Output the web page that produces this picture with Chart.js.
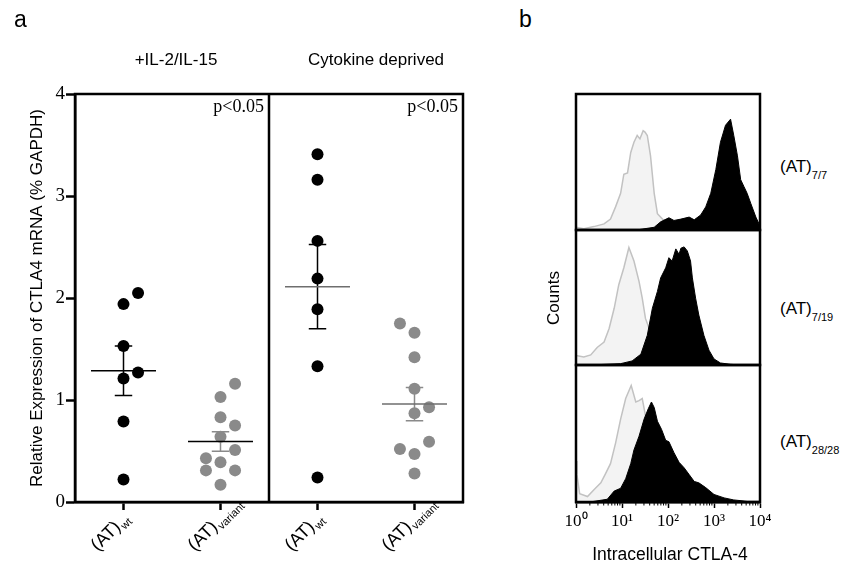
<!DOCTYPE html>
<html>
<head>
<meta charset="utf-8">
<script src="https://cdn.jsdelivr.net/npm/chart.js@4.4.1/dist/chart.umd.min.js"></script>
<style>
  body { margin: 0; background: #fff; }
  #wrap { position: relative; width: 845px; height: 570px; overflow: hidden;
          font-family: "Liberation Sans", Arial, sans-serif; color: #000; }
  canvas { position: absolute; }
  .lbl { position: absolute; font-size: 17px; line-height: 1; white-space: nowrap; }
  .lbl sub { font-size: 11px; vertical-align: -7px; line-height: 0; }
  .ctr { transform: translate(-50%, -50%); }
</style>
</head>
<body>
<div id="wrap">
  <canvas id="scatterA" width="480" height="570" style="left:0;top:0;width:480px;height:570px"></canvas>
  <canvas id="hist1" width="188" height="140" style="left:574px;top:92px;width:188px;height:140px"></canvas>
  <canvas id="hist2" width="188" height="139" style="left:574px;top:228px;width:188px;height:139px"></canvas>
  <canvas id="hist3" width="224" height="207" style="left:556px;top:363px;width:224px;height:207px"></canvas>

  <div class="lbl" style="left:14px;top:8px;font-size:23px">a</div>
  <div class="lbl" style="left:519px;top:8px;font-size:23px">b</div>
  <div class="lbl ctr" style="left:553px;top:298px;transform:translate(-50%,-50%) rotate(-90deg)">Counts</div>
  <div class="lbl ctr" style="left:670px;top:555px;font-size:17.5px">Intracellular CTLA-4</div>
  <div class="lbl" id="s0" style="left:780px;top:158px"></div>
  <div class="lbl" id="s1" style="left:780px;top:300px"></div>
  <div class="lbl" id="s2" style="left:780px;top:433px"></div>
</div>
<script>
// ---- panel a: CTLA4 mRNA (% GAPDH) ----
const groupPos = [0.5, 1.5, 2.5, 3.5];
const genotypeSubs = ['wt', 'variant', 'wt', 'variant'];
const conditionTitles = ['+IL-2/IL-15', 'Cytokine deprived'];
const pLabels = ['p<0.05', 'p<0.05'];

const il2Wt = [2.05, 1.94, 1.53, 1.27, 1.21, 0.79, 0.22];
const il2WtJit = [0.15, 0, 0, 0.15, 0, 0, 0];
const il2Var = [1.16, 1.03, 0.83, 0.75, 0.64, 0.51, 0.43, 0.39, 0.31, 0.31, 0.17];
const il2VarJit = [0.15, 0, 0, 0.15, 0, 0.15, -0.15, 0, -0.15, 0.15, 0];
const depWt = [3.41, 3.16, 2.56, 2.19, 1.89, 1.33, 0.24];
const depWtJit = [0, 0, 0, 0, 0, 0, 0];
const depVar = [1.75, 1.66, 1.42, 1.11, 0.93, 0.87, 0.59, 0.52, 0.47, 0.28];
const depVarJit = [-0.15, 0, 0, 0, 0.15, 0, 0.15, -0.15, 0, 0];

const groups = [il2Wt, il2Var, depWt, depVar];
const jitters = [il2WtJit, il2VarJit, depWtJit, depVarJit];
const pointColors = ['#000', '#8a8a8a', '#000', '#8a8a8a'];
const meanColors = ['#000', '#000', '#6e6e6e', '#6e6e6e'];
const semColors = ['#000', '#8a8a8a', '#000', '#8a8a8a'];

// ---- panel b: histograms (x = log10 intensity, y = % of panel height) ----
const decades = [0, 1, 2, 3, 4];
const supers = ['\u2070', '\u00B9', '\u00B2', '\u00B3', '\u2074'];
const sampleSubs = ['7/7', '7/19', '28/28'];

const h1GrayX = [0, 0.17, 0.39, 0.61, 0.75, 0.86, 0.97, 1.04, 1.12, 1.19, 1.26, 1.33, 1.39, 1.46, 1.5, 1.55, 1.62, 1.70, 1.77, 1.88, 2.0, 2.2, 2.5];
const h1GrayY = [2, 1, 2.5, 4.5, 8, 17, 27, 41, 42, 57, 64.5, 69.5, 67, 73, 72, 69.5, 54.5, 27, 12, 8, 6, 2, 0];
const h1BlackX = [1.3, 1.41, 1.70, 1.84, 2.02, 2.13, 2.28, 2.46, 2.57, 2.71, 2.82, 2.93, 3.04, 3.14, 3.25, 3.36, 3.43, 3.51, 3.58, 3.65, 3.72, 3.80, 3.91, 4.0];
const h1BlackY = [0, 0.5, 2, 6, 9, 7, 8, 9.5, 7.5, 11, 17, 27, 44.5, 64.5, 77, 81.5, 69.5, 54.5, 37, 32, 27, 19.5, 9.5, 3];

const h2GrayX = [0, 0.17, 0.32, 0.46, 0.61, 0.72, 0.83, 0.93, 1.04, 1.15, 1.26, 1.37, 1.44, 1.51, 1.59, 1.7, 1.9, 2.2];
const h2GrayY = [7, 6, 7.5, 13, 17, 27, 42, 59.5, 72, 87, 77, 62, 49.5, 34.5, 27, 15, 5, 0];
const h2BlackX = [0.3, 0.97, 1.22, 1.41, 1.55, 1.66, 1.77, 1.84, 1.95, 2.02, 2.09, 2.17, 2.24, 2.28, 2.35, 2.42, 2.49, 2.53, 2.60, 2.67, 2.78, 2.89, 3.0, 3.14, 3.36, 3.6];
const h2BlackY = [0, 1, 3, 8, 22, 42, 54.5, 64.5, 72, 79.5, 77, 86, 82, 86.5, 87.5, 84.5, 77, 64.5, 49.5, 37, 22, 11, 4.5, 1.5, 0.5, 0];

const h3GrayX = [0, 0.02, 0.08, 0.25, 0.39, 0.54, 0.64, 0.75, 0.86, 0.97, 1.08, 1.20, 1.30, 1.37, 1.44, 1.51, 1.6, 1.8, 2.1];
const h3GrayY = [30, 20, 6, 4, 9, 14, 20.5, 28, 43, 60.5, 75.5, 85, 73, 74, 75.5, 63, 45, 15, 0];
const h3BlackX = [0.3, 0.68, 0.83, 0.97, 1.08, 1.19, 1.26, 1.37, 1.48, 1.57, 1.64, 1.70, 1.77, 1.86, 1.95, 2.02, 2.13, 2.24, 2.35, 2.46, 2.57, 2.67, 2.82, 3.0, 3.22, 3.43, 3.72, 4.0];
const h3BlackY = [0, 2, 8, 10, 17, 28, 38, 48, 60.5, 68, 73, 69, 59, 53, 45, 44, 36, 29, 25, 20, 15, 14, 10.5, 5.5, 3, 1.5, 0.5, 0.5];

const SANS = '"Liberation Sans", Arial, sans-serif';
const SERIF = '"Liberation Serif", "Times New Roman", serif';
Chart.defaults.color = '#000';
Chart.defaults.font.family = SANS;

function meanSem(v) {
    const m = v.reduce((a, b) => a + b, 0) / v.length;
    const sd = Math.sqrt(v.reduce((a, b) => a + (b - m) ** 2, 0) / (v.length - 1));
    return [m, sd / Math.sqrt(v.length)];
}

// medias, errores, marco, textos del panel a
const panelAExtras = {
    id: 'panelAExtras',
    afterDatasetsDraw(chart) {
        const { ctx, chartArea: ca, scales: { x, y } } = chart;
        ctx.save();
        groups.forEach((vals, g) => {
            const [m, s] = meanSem(vals);
            const cx = x.getPixelForValue(groupPos[g]);
            ctx.lineWidth = 1.5;
            ctx.strokeStyle = semColors[g];
            ctx.beginPath();
            ctx.moveTo(cx, y.getPixelForValue(m - s));
            ctx.lineTo(cx, y.getPixelForValue(m + s));
            [m - s, m + s].forEach(v => {
                const py = y.getPixelForValue(v);
                ctx.moveTo(x.getPixelForValue(groupPos[g] - 0.09), py);
                ctx.lineTo(x.getPixelForValue(groupPos[g] + 0.09), py);
            });
            ctx.stroke();
            ctx.strokeStyle = meanColors[g];
            ctx.beginPath();
            const my = y.getPixelForValue(m);
            ctx.moveTo(x.getPixelForValue(groupPos[g] - 0.335), my);
            ctx.lineTo(x.getPixelForValue(groupPos[g] + 0.335), my);
            ctx.stroke();
        });
        // marco y separador
        ctx.lineWidth = 2.5;
        ctx.strokeStyle = '#000';
        ctx.strokeRect(ca.left, ca.top, ca.width, ca.height);
        const mid = x.getPixelForValue(2);
        ctx.beginPath();
        ctx.moveTo(mid, ca.top);
        ctx.lineTo(mid, ca.bottom);
        ctx.stroke();
        // p valores
        ctx.fillStyle = '#000';
        ctx.font = '18px ' + SERIF;
        ctx.textAlign = 'right';
        ctx.textBaseline = 'alphabetic';
        [2, 4].forEach((edge, i) => ctx.fillText(pLabels[i], x.getPixelForValue(edge) - 5, ca.top + 18));
        // titulos de condicion
        ctx.font = '17px ' + SANS;
        ctx.textAlign = 'center';
        ctx.fillText(conditionTitles[0], x.getPixelForValue(1) + 4, 65);
        ctx.fillText(conditionTitles[1], x.getPixelForValue(3) + 10, 65);
        // etiquetas del eje x, giradas
        groupPos.forEach((p, g) => {
            ctx.save();
            ctx.translate(x.getPixelForValue(p) - 2, ca.bottom + 26);
            ctx.rotate(-Math.PI / 4);
            ctx.font = '18px ' + SANS;
            ctx.textAlign = 'right';
            ctx.fillText('(AT)', 0, 0);
            ctx.font = '11px ' + SANS;
            ctx.textAlign = 'left';
            ctx.fillText(genotypeSubs[g], 1, 4);
            ctx.restore();
        });
        ctx.restore();
    }
};

new Chart(document.getElementById('scatterA'), {
    type: 'scatter',
    data: {
        datasets: groups.map((vals, g) => ({
            data: vals.map((v, j) => ({ x: groupPos[g] + jitters[g][j], y: v })),
            pointRadius: 6,
            pointBackgroundColor: pointColors[g],
            pointBorderColor: pointColors[g],
            pointBorderWidth: 0
        }))
    },
    options: {
        responsive: false,
        maintainAspectRatio: false,
        animation: false,
        devicePixelRatio: 1,
        layout: { padding: { left: 23, top: 94, right: 17, bottom: 0 } },
        plugins: { legend: { display: false }, tooltip: { enabled: false } },
        scales: {
            x: {
                type: 'linear', min: 0, max: 4,
                afterBuildTicks: s => { s.ticks = groupPos.map(v => ({ value: v })); },
                afterFit: s => { s.height = 68; },
                ticks: { display: false },
                grid: { drawOnChartArea: false, tickLength: 8, tickWidth: 2.5, tickColor: '#000' },
                border: { display: true, color: '#000', width: 2.5 }
            },
            y: {
                min: 0, max: 4,
                afterFit: s => { s.width = 52; },
                ticks: { stepSize: 1, padding: 1, font: { family: SERIF, size: 19 } },
                grid: { drawOnChartArea: false, tickLength: 9, tickWidth: 2.5, tickColor: '#000' },
                border: { display: true, color: '#000', width: 2.5 },
                title: { display: true, text: 'Relative Expression of CTLA4 mRNA (% GAPDH)', font: { family: SANS, size: 17 } }
            }
        }
    },
    plugins: [panelAExtras]
});

// marco de cada histograma y ticks menores del eje log
const histFrame = {
    id: 'histFrame',
    afterDatasetsDraw(chart) {
        const { ctx, chartArea: ca, scales: { x } } = chart;
        ctx.save();
        ctx.strokeStyle = '#000';
        ctx.lineWidth = 2.5;
        ctx.strokeRect(ca.left, ca.top, ca.width, ca.height);
        if (chart.options.scales.x.display) {
            ctx.lineWidth = 1;
            ctx.beginPath();
            for (let d = 0; d < 4; d++) {
                for (let k = 2; k <= 9; k++) {
                    const px = x.getPixelForValue(d + Math.log10(k));
                    ctx.moveTo(px, ca.bottom);
                    ctx.lineTo(px, ca.bottom + 3.5);
                }
            }
            ctx.stroke();
        }
        ctx.restore();
    }
};

function histChart(id, blackX, blackY, grayX, grayY, withAxis) {
    const pts = (xs, ys) => xs.map((v, i) => ({ x: v, y: ys[i] }));
    return new Chart(document.getElementById(id), {
        type: 'scatter',
        data: {
            datasets: [
                { data: pts(blackX, blackY), showLine: true, fill: 'origin', backgroundColor: '#000',
                  borderColor: '#000', borderWidth: 1, pointRadius: 0, tension: 0 },
                { data: pts(grayX, grayY), showLine: true, fill: 'origin', backgroundColor: '#f3f3f3',
                  borderColor: '#c2c2c2', borderWidth: 1.5, pointRadius: 0, tension: 0 }
            ]
        },
        options: {
            responsive: false,
            maintainAspectRatio: false,
            animation: false,
            devicePixelRatio: 1,
            layout: { padding: withAxis ? { left: 20, right: 20, top: 2, bottom: 0 } : 2 },
            plugins: { legend: { display: false }, tooltip: { enabled: false } },
            scales: {
                x: {
                    type: 'linear', min: 0, max: 4, display: withAxis,
                    afterBuildTicks: s => { s.ticks = decades.map(v => ({ value: v })); },
                    afterFit: s => { s.height = withAxis ? 68 : 0; },
                    ticks: { maxRotation: 0, padding: 3, autoSkip: false,
                             font: { family: SERIF, size: 17 },
                             callback: v => '10' + supers[v] },
                    grid: { drawOnChartArea: false, tickLength: 6, tickWidth: 1.5, tickColor: '#000' },
                    border: { display: true, color: '#000', width: 2.5 }
                },
                y: { min: 0, max: 100, display: false }
            }
        },
        plugins: [histFrame]
    });
}

histChart('hist1', h1BlackX, h1BlackY, h1GrayX, h1GrayY, false);
histChart('hist2', h2BlackX, h2BlackY, h2GrayX, h2GrayY, false);
histChart('hist3', h3BlackX, h3BlackY, h3GrayX, h3GrayY, true);

sampleSubs.forEach((s, i) => {
    document.getElementById('s' + i).innerHTML = '(AT)<sub>' + s + '</sub>';
});
</script>
</body>
</html>
